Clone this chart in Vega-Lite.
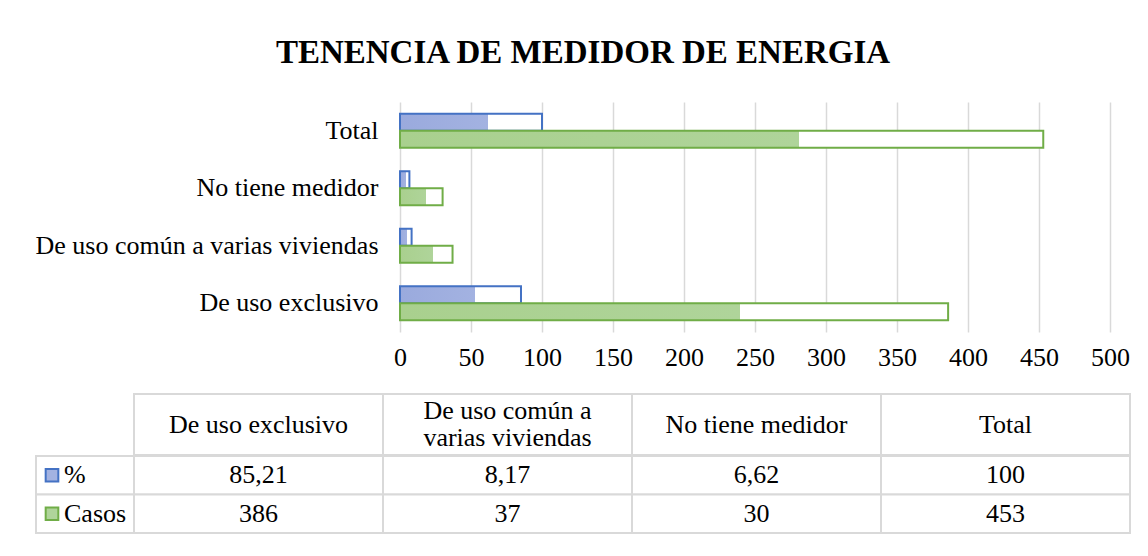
{
  "$schema": "https://vega.github.io/schema/vega-lite/v6.json",
  "background": "white",
  "padding": {"left": 35, "top": 37, "right": 10, "bottom": 10},
  "title": {"text": "TENENCIA DE MEDIDOR DE ENERGIA", "anchor": "middle", "frame": "bounds", "font": "Liberation Serif", "fontSize": 33, "fontWeight": "bold", "color": "#000000", "offset": 32},
  "config": {
    "view": {"stroke": null},
    "font": "Liberation Serif",
    "locale": {"number": {"decimal": ",", "thousands": ".", "grouping": [3], "currency": ["$", ""]}}
  },
  "datasets": {
    "datos": [
      {"categoria": "De uso exclusivo", "serie": "%", "valor": 85.21},
      {"categoria": "De uso común a varias viviendas", "serie": "%", "valor": 8.17},
      {"categoria": "No tiene medidor", "serie": "%", "valor": 6.62},
      {"categoria": "Total", "serie": "%", "valor": 100},
      {"categoria": "De uso exclusivo", "serie": "Casos", "valor": 386},
      {"categoria": "De uso común a varias viviendas", "serie": "Casos", "valor": 37},
      {"categoria": "No tiene medidor", "serie": "Casos", "valor": 30},
      {"categoria": "Total", "serie": "Casos", "valor": 453}
    ]
  },
  "bounds": "full",
  "spacing": 23,
  "vconcat": [
    {
      "bounds": "flush",
      "spacing": 0,
      "hconcat": [
        {"width": 364, "height": 230, "data": {"values": []}, "mark": "point"},
        {
          "width": 710, "height": 230,
          "data": {"name": "datos"},
          "mark": {"type": "bar", "strokeWidth": 2},
          "encoding": {
            "y": {"field": "categoria", "type": "nominal", "sort": ["Total", "No tiene medidor", "De uso común a varias viviendas", "De uso exclusivo"], "scale": {"paddingInner": 0.41, "paddingOuter": 0.205}, "axis": {"title": null, "domain": false, "ticks": false, "labelPadding": 22, "labelFont": "Liberation Serif", "labelFontSize": 26, "labelColor": "#000000", "labelLimit": 600}},
            "yOffset": {"field": "serie", "type": "nominal", "sort": ["%", "Casos"], "scale": {"paddingInner": 0, "paddingOuter": 0}},
            "x": {"field": "valor", "type": "quantitative", "scale": {"domain": [0, 500], "nice": false}, "axis": {"title": null, "tickCount": 10, "domain": false, "ticks": false, "grid": true, "gridColor": "#d9d9d9", "gridWidth": 1.5, "labelPadding": 12, "labelFont": "Liberation Serif", "labelFontSize": 26, "labelColor": "#000000", "labelFlush": false, "labelOverlap": false}},
            "fill": {
              "condition": {"test": "datum.serie === '%'", "value": {"gradient": "linear", "x1": 0, "y1": 0, "x2": 1, "y2": 0, "stops": [{"offset": 0, "color": "#9aaadd"}, {"offset": 0.62, "color": "#a3b2e1"}, {"offset": 0.62, "color": "#ffffff"}, {"offset": 1, "color": "#ffffff"}]}},
              "value": {"gradient": "linear", "x1": 0, "y1": 0, "x2": 1, "y2": 0, "stops": [{"offset": 0, "color": "#a9d08e"}, {"offset": 0.62, "color": "#afd49a"}, {"offset": 0.62, "color": "#ffffff"}, {"offset": 1, "color": "#ffffff"}]}
            },
            "stroke": {"condition": {"test": "datum.serie === '%'", "value": "#4472C4"}, "value": "#70AD47"}
          }
        }
      ]
    },
    {
      "bounds": "full",
      "spacing": -2,
      "vconcat": [
        {
          "bounds": "flush",
          "spacing": 0,
          "hconcat": [
            {"width": 98, "height": 61, "data": {"values": []}, "mark": "point"},
            {
              "width": 996, "height": 61,
              "data": {"name": "datos"},
              "transform": [{"filter": "datum.serie === '%'"}],
              "encoding": {
                "x": {"field": "categoria", "type": "nominal", "sort": ["De uso exclusivo", "De uso común a varias viviendas", "No tiene medidor", "Total"], "axis": null, "scale": {"paddingInner": 0, "paddingOuter": 0}}
              },
              "layer": [
                {"mark": {"type": "rect", "fill": "#ffffff", "stroke": "#d9d9d9", "strokeWidth": 2}},
                {
                  "transform": [{"filter": "datum.categoria !== 'De uso común a varias viviendas'"}],
                  "mark": {"type": "text", "font": "Liberation Serif", "fontSize": 26, "color": "#000000"},
                  "encoding": {"text": {"field": "categoria"}}
                },
                {
                  "transform": [
                    {"filter": "datum.categoria === 'De uso común a varias viviendas'"},
                    {"calculate": "['De uso común a', 'varias viviendas']", "as": "etiqueta"}
                  ],
                  "mark": {"type": "text", "font": "Liberation Serif", "fontSize": 26, "lineHeight": 27, "dy": -13.5, "color": "#000000"},
                  "encoding": {"text": {"field": "etiqueta"}}
                }
              ]
            }
          ]
        },
        {
          "bounds": "flush",
          "spacing": 0,
          "hconcat": [
            {
              "width": 98, "height": 77,
              "data": {"name": "datos"},
              "transform": [{"filter": "datum.categoria === 'Total'"}],
              "encoding": {
                "y": {"field": "serie", "type": "nominal", "sort": ["%", "Casos"], "axis": null, "scale": {"paddingInner": 0, "paddingOuter": 0}}
              },
              "layer": [
                {"mark": {"type": "rect", "fill": "#ffffff", "stroke": "#d9d9d9", "strokeWidth": 2}},
                {"mark": {"type": "point", "shape": "square", "size": 160, "filled": true, "opacity": 1, "strokeWidth": 2},
                 "encoding": {
                   "xOffset": {"value": -33},
                   "fill": {"condition": {"test": "datum.serie === '%'", "value": "#a3b2e1"}, "value": "#afd49a"},
                   "stroke": {"condition": {"test": "datum.serie === '%'", "value": "#4472C4"}, "value": "#70AD47"}
                 }},
                {"mark": {"type": "text", "align": "left", "dx": -21, "font": "Liberation Serif", "fontSize": 26, "color": "#000000"}, "encoding": {"text": {"field": "serie"}}}
              ]
            },
            {
              "width": 996, "height": 77,
              "data": {"name": "datos"},
              "encoding": {
                "x": {"field": "categoria", "type": "nominal", "sort": ["De uso exclusivo", "De uso común a varias viviendas", "No tiene medidor", "Total"], "axis": null, "scale": {"paddingInner": 0, "paddingOuter": 0}},
                "y": {"field": "serie", "type": "nominal", "sort": ["%", "Casos"], "axis": null, "scale": {"paddingInner": 0, "paddingOuter": 0}}
              },
              "layer": [
                {"mark": {"type": "rect", "fill": "#ffffff", "stroke": "#d9d9d9", "strokeWidth": 2}},
                {"mark": {"type": "text", "font": "Liberation Serif", "fontSize": 26, "color": "#000000"}, "encoding": {"text": {"field": "valor", "type": "quantitative", "format": ".4~r"}}}
              ]
            }
          ]
        }
      ]
    }
  ]
}
